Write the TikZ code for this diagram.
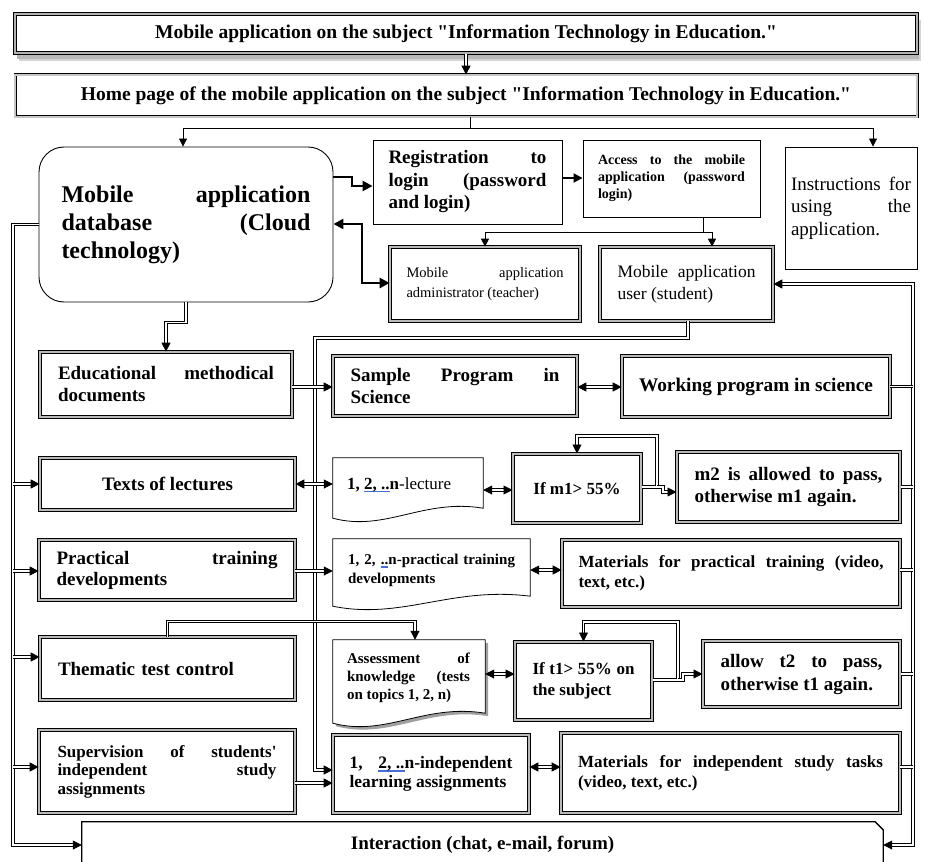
\documentclass[tikz,border=0pt]{standalone}
\usepackage{fontspec}
\setmainfont{Liberation Serif}[Ligatures=TeXOff]
\usetikzlibrary{arrows.meta,calc,shadows}
\newcommand\myfs[2]{\fontsize{#1}{#2}\selectfont}
\definecolor{wavblue}{RGB}{70,110,215}
\newsavebox\wavbox
\newcommand\wav[1]{\sbox\wavbox{#1}\rlap{\textcolor{wavblue}{\rule[-3pt]{\wd\wavbox}{1.6pt}}}\usebox\wavbox}
\newcommand\docpath[2][]{%
  \path[draw=black, line width=0.8pt, fill=white, #1] (#2.north west) -- (#2.north east)
    -- ($(#2.south east)+(0,-14)$)
    .. controls ($(#2.south west)!0.6!(#2.south east)+(0,-24)$) and ($(#2.south west)!0.35!(#2.south east)+(0,10)$)
    .. ($(#2.south west)+(0,-4)$) -- cycle;}
\begin{document}
\begin{tikzpicture}[x=1pt,y=-1pt,
  txt/.style={inner sep=0pt, execute at begin node={\tolerance=9999\hyphenpenalty=10000\exhyphenpenalty=10000}},
  frame3d/.style={txt, draw=black, line width=0.7pt, double=gray!55, double distance=1.8pt, fill=white},
  framethick/.style={txt, draw=black, line width=1pt, double=gray!55, double distance=2.4pt, fill=white},
  plainbox/.style={txt, draw=black, line width=0.9pt, fill=white},
  topbox/.style={txt, draw=black, line width=1.1pt, double=gray!60, double distance=2.6pt, fill=white},
  topshadow/.style={fill=black!28},
  homebox/.style={txt, draw=black, line width=0.8pt, double=gray!45, double distance=1.4pt, fill=white},
  dbbox/.style={txt, draw=black, line width=0.9pt, rounded corners=25pt, fill=white},
  docnode/.style={inner sep=0pt},
  thinline/.style={line width=0.9pt},
  thinarrow/.style={line width=0.9pt, -{Triangle[length=8pt,width=8pt]}},
  boldarrow/.style={line width=2.4pt, -{Triangle[length=10pt,width=10pt]}},
  boldboth/.style={line width=2.4pt, {Triangle[length=10pt,width=10pt]}-{Triangle[length=10pt,width=10pt]}},
  medarrow/.style={line width=1.8pt, -{Triangle[length=9pt,width=9pt]}},
  dline/.style={draw=black, line width=0.85pt, double=white, double distance=1.4pt},
  darrow/.style={dline, -{Triangle[length=9pt,width=9pt]}},
  dboth/.style={dline, {Triangle[length=9pt,width=9pt]}-{Triangle[length=9pt,width=9pt]}},
]
\useasboundingbox (0,0) rectangle (925,861);

% ---------- shadow of the title box ----------
\fill[topshadow, opacity=0.6] (19,20) rectangle (921,61);
\fill[topshadow] (17,18) rectangle (919,59);

% ---------- nodes ----------
\node[topbox, minimum width=902, minimum height=39, font={\myfs{19.5}{22}\bfseries}] (top) at (466,33.5)
  {Mobile application on the subject "Information Technology in Education."};
\node[homebox, minimum width=902, minimum height=42, font={\myfs{19.5}{22}\bfseries}] (home) at (466,96)
  {Home page of the mobile application on the subject "Information Technology in Education."};

\node[dbbox, minimum width=294, minimum height=155, text width=249, align=justify, font={\myfs{24}{28}\bfseries}] (db) at (186,224.5)
  {Mobile application\linebreak database (Cloud\linebreak technology)};
\node[plainbox, minimum width=189, minimum height=84, text width=158, align=justify, font={\myfs{19}{22.5}\bfseries}] (reg) at (467.5,182)
  {Registration to\linebreak login (password\linebreak and login)};
\node[plainbox, minimum width=177, minimum height=77, text width=147, align=justify, font={\myfs{14}{17}\bfseries}] (acc) at (671.5,178.5)
  {Access to the mobile\linebreak application (password\linebreak login)};
\node[plainbox, minimum width=132, minimum height=122, text width=120, align=justify, font={\myfs{19}{22.5}}] (instr) at (851,208)
  {Instructions for\linebreak using the\linebreak application.};
\node[frame3d, minimum width=190, minimum height=74, text width=157, align=justify, font={\myfs{14.5}{20}}] (admin) at (485,284)
  {Mobile application\linebreak administrator (teacher)};
\node[frame3d, minimum width=173, minimum height=74, text width=138, align=justify, font={\myfs{17.5}{22}}] (student) at (686.5,284)
  {Mobile application\linebreak user (student)};

\node[frame3d, minimum width=252, minimum height=65, text width=216, align=justify, font={\myfs{19}{22}\bfseries}] (edu) at (166,384.5)
  {Educational methodical\linebreak documents};
\node[frame3d, minimum width=244, minimum height=60, text width=209, align=justify, font={\myfs{19}{22}\bfseries}] (sample) at (455,386)
  {Sample Program in\linebreak Science};
\node[frame3d, minimum width=268, minimum height=61, font={\myfs{19.3}{22}\bfseries}] (work) at (756,386.5)
  {Working program in science};

\node[frame3d, minimum width=255, minimum height=52, font={\myfs{19}{22}\bfseries}] (texts) at (167.5,484)
  {Texts of lectures};
\node[docnode, minimum width=150, minimum height=64] (lect) at (408,490) {};
\docpath{lect}
\node[txt, anchor=west, font={\myfs{17}{20}}] (lectT) at (347,485) {\textbf{1, \wav{2, ..}n}-lecture};
\node[framethick, minimum width=128, minimum height=69, font={\myfs{17}{20}\bfseries}] (ifm) at (577,488.5)
  {If m1> 55\%};
\node[framethick, minimum width=223, minimum height=70, text width=188, align=justify, font={\myfs{19}{22}\bfseries}] (m2) at (788.5,487)
  {m2 is allowed to pass,\linebreak otherwise m1 again.};

\node[frame3d, minimum width=256, minimum height=60, text width=221, align=justify, font={\myfs{19}{21}\bfseries}] (prac) at (167,570)
  {Practical training\linebreak developments};
\node[docnode, minimum width=197, minimum height=71] (pdoc) at (431.5,574.5) {};
\docpath{pdoc}
\node[txt, text width=167, align=justify, font={\myfs{15}{19}\bfseries}] (pdocT) at (431.5,570.5)
  {1, 2, \wav{..}n-practical training\linebreak developments};
\node[frame3d, minimum width=338, minimum height=67, text width=305, align=justify, font={\myfs{17}{20}\bfseries}] (pmat) at (731,573.5)
  {Materials for practical training (video,\linebreak text, etc.)};

\node[frame3d, minimum width=255, minimum height=63, text width=219, align=left, font={\myfs{19}{22}\bfseries}] (them) at (167.5,668.5)
  {Thematic test control};
\node[docnode, minimum width=152, minimum height=87] (assess) at (409,683.5) {};
\docpath[drop shadow={shadow xshift=3pt, shadow yshift=-3pt, opacity=0.75}]{assess}
\node[txt, text width=123, align=justify, font={\myfs{15}{18}\bfseries}] (assessT) at (408.5,678)
  {Assessment of\linebreak knowledge (tests\linebreak on topics 1, 2, n)};
\node[framethick, minimum width=137, minimum height=78, text width=102, align=justify, font={\myfs{17}{21}\bfseries}] (ift) at (583.5,681)
  {If t1> 55\% on\linebreak the subject};
\node[framethick, minimum width=197, minimum height=66, text width=162, align=justify, font={\myfs{19}{23}\bfseries}] (allow) at (801.5,674)
  {allow t2 to pass,\linebreak otherwise t1 again.};

\node[frame3d, minimum width=256, minimum height=83, text width=219, align=justify, font={\myfs{17}{18.5}\bfseries}] (sup) at (167,771.5)
  {Supervision of students'\linebreak independent study\linebreak assignments};
\node[frame3d, minimum width=196, minimum height=78, text width=163, align=justify, font={\myfs{17.5}{19}\bfseries}] (indep) at (431,774)
  {1, \wav{2, ..}n-independent\linebreak learning assignments};
\node[frame3d, minimum width=339, minimum height=80, text width=305, align=justify, font={\myfs{17}{20}\bfseries}] (imat) at (730.5,773)
  {Materials for independent study tasks\linebreak (video, text, etc.)};

\node[txt, minimum width=801, minimum height=46, font={\myfs{19}{22}\bfseries}] (inter) at (482.5,845)
  {Interaction (chat, e-mail, forum)};
\draw[line width=1.3pt] (inter.south west) -- (inter.north west) -- ([xshift=-8pt]inter.north east)
  -- ([yshift=-8pt]inter.north east) -- (inter.south east);

% ---------- connectors ----------
\coordinate (lbus) at (13,0);
\coordinate (mbus) at (315,0);
\coordinate (rbus) at (913,0);

\draw[darrow] (top.south) -- (home.north);

\draw[thinline] ([xshift=4pt]home.south) -- ++(0,11) coordinate (hj);
\draw[thinarrow] (hj) -| ([xshift=-3pt]db.north);
\draw[thinarrow] (hj) -| ([xshift=22pt]instr.north);

\draw[boldarrow] (db.east |- 0,177) -- (352,177) -- (352,186) -- (reg.west |- 0,186);
\draw[boldboth] (db.east |- 0,224) -- (362,224) -- (362,283) -- (admin.west |- 0,283);
\draw[medarrow] (reg.east |- 0,178) -- (acc.west |- 0,178);

\draw[thinline] ([xshift=31.5pt]acc.south) -- ++(0,15) coordinate (aj);
\draw[thinarrow] (aj) -| (admin.north);
\draw[thinarrow] (aj) -| ([xshift=25.5pt]student.north);

% left bus
\draw[darrow] (db.west) -| (lbus |- inter.west) -- (inter.west);
\draw[darrow] (lbus |- texts.west) -- (texts.west);
\draw[darrow] (lbus |- 0,571) -- (prac.west |- 0,571);
\draw[darrow] (lbus |- 0,657) -- (them.west |- 0,657);
\draw[darrow] (lbus |- 0,767) -- (sup.west |- 0,767);

\draw[darrow] (db.south) -- ++(0,20) -| (edu.north);

% middle bus from the student
\draw[darrow] ([xshift=1.5pt]student.south) |- (mbus |- 0,338) -- (mbus |- 0,770) -- (indep.west |- 0,770);

% right bus
\draw[dline, {Triangle[length=9pt,width=9pt]}-{Triangle[length=9pt,width=9pt]}]
  (student.east) -- (rbus |- student.east) -- (rbus |- inter.east) -- (inter.east);
\draw[dline] (work.east) -- (rbus |- work.east);
\draw[dline] (m2.east) -- (rbus |- m2.east);
\draw[dline] (pmat.east |- 0,570) -- (rbus |- 0,570);
\draw[dline] (allow.east) -- (rbus |- allow.east);
\draw[dline] (imat.east |- 0,767) -- (rbus |- 0,767);

% row connectors
\draw[darrow] (edu.east |- 0,387) -- (sample.west |- 0,387);
\draw[dboth] (sample.east |- 0,387) -- (work.west |- 0,387);
\draw[dboth] (texts.east) -- (lect.west |- texts.east);
\draw[dboth] (lect.east |- 0,490) -- (ifm.west |- 0,490);
\coordinate (mj) at (657,487);
\draw[darrow] (ifm.east |- mj) -- (mj) -- (657,436) -| (ifm.north);
\draw[darrow] (mj) -- (663,487) -- (663,492) -- (m2.west |- 0,492);

\draw[darrow] (prac.east |- 0,571) -- (pdoc.west |- 0,571);
\draw[dboth] (pdoc.east |- 0,570) -- (pmat.west |- 0,570);

\draw[darrow] (them.north) -- ++(0,-15) -| ([xshift=6pt]assess.north);
\draw[dboth] (assess.east |- 0,674) -- (ift.west |- 0,674);
\coordinate (tj) at (678,680);
\draw[darrow] (ift.east |- tj) -- (tj) -- (678,622) -| (ift.north);
\draw[darrow] (tj) -- (683,680) -- (683,674) -- (allow.west |- 0,674);

\draw[darrow] (sup.east |- 0,783) -- (indep.west |- 0,783);
\draw[dboth] (indep.east |- 0,767) -- (imat.west |- 0,767);
\end{tikzpicture}
\end{document}
